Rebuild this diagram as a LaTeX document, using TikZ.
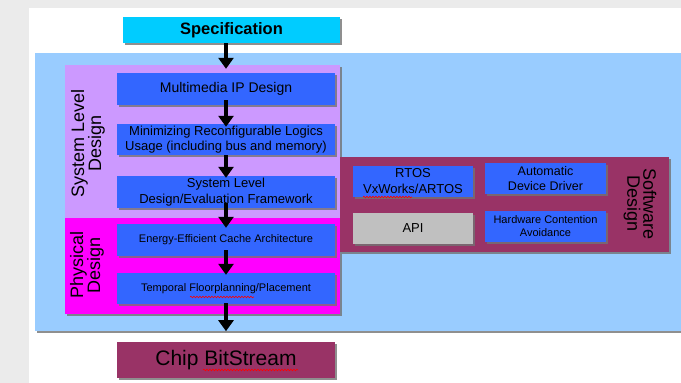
\documentclass[tikz,border=0pt]{standalone}
\usepackage{fontspec}
\setmainfont{Liberation Sans}
\usetikzlibrary{shadows,arrows.meta,decorations.pathmorphing}
\definecolor{outergray}{HTML}{EBEBEB}
\definecolor{regblue}{HTML}{99CCFF}
\definecolor{regpurple}{HTML}{CC99FF}
\definecolor{regpink}{HTML}{FF00FF}
\definecolor{ipblue}{HTML}{3366FF}
\definecolor{maroon}{HTML}{993366}
\definecolor{speccyan}{HTML}{00CCFF}
\definecolor{apigray}{HTML}{C0C0C0}
\newcommand{\fsz}[2]{\fontsize{#1}{#2}\selectfont}
\begin{document}
\begin{tikzpicture}[x=1pt,y=-1pt,
  shad/.style={drop shadow={shadow xshift=2pt,shadow yshift=-2pt,fill=black!55,opacity=0.8}},
  region/.style={inner sep=0pt,shad},
  box/.style={fill=ipblue,inner sep=0pt,align=center,minimum width=218pt,shad,text=black},
  swbox/.style={fill=ipblue,inner sep=0pt,align=center,minimum height=31pt,shad,text=black},
  arr/.style={line width=4pt,-{Triangle[width=15pt,length=11pt]}},
  squig/.style={draw=red,line width=0.6pt,decorate,decoration={snake,segment length=3pt,amplitude=0.8pt}},
  sidelabel/.style={align=center,inner sep=0pt,text=black}]
\useasboundingbox (0,0) rectangle (681,383);
\fill[outergray] (0,0) rectangle (681,383);
\fill[white] (29,8) rectangle (681,383);
% regions
\node[region,fill=regblue,minimum width=646pt,minimum height=278pt] (bluebg) at (358,192) {};
\node[region,fill=regpurple,minimum width=275pt,minimum height=153pt] (sld) at (202.5,141.5) {};
\node[region,fill=regpink,minimum width=275pt,minimum height=96pt] (pd) at (202.5,266) {};
\node[region,fill=maroon,minimum width=329pt,minimum height=95pt] (swd) at (504.5,204.5) {};
% top / bottom
\node[region,fill=speccyan,minimum width=217pt,minimum height=26pt,font=\bfseries\fsz{16.5}{18}] (spec) at (231.5,30) {Specification};
\node[region,fill=maroon,minimum width=218pt,minimum height=36pt,font=\fsz{21}{23}] (chip) at (226,360) {Chip BitStream};
% left flow boxes
\node[box,minimum height=32pt,font=\fsz{14}{16}] (mm) at (226,89) {Multimedia IP Design};
\node[box,minimum height=31pt,font=\fsz{13}{15.5}] (mr) at (226,139.5) {Minimizing Reconfigurable Logics\\Usage (including bus and memory)};
\node[box,minimum height=32pt,font=\fsz{13}{15.5}] (sl) at (226,192) {System Level\\Design/Evaluation Framework};
\node[box,minimum height=32pt,font=\fsz{11}{13}] (ee) at (226,240) {Energy-Efficient Cache Architecture};
\node[box,minimum height=31pt,font=\fsz{11}{13}] (tf) at (226,288.5) {Temporal Floorplanning/Placement};
% software boxes
\node[swbox,minimum width=120pt,font=\fsz{13}{16}] (rtos) at (413,181.5) {RTOS\\VxWorks/ARTOS};
\node[swbox,minimum width=121pt,font=\fsz{12.5}{15}] (add) at (545.5,178.5) {Automatic\\Device Driver};
\node[swbox,fill=apigray,minimum width=120pt,font=\fsz{13}{15}] (api) at (413,228.5) {API};
\node[swbox,minimum width=121pt,font=\fsz{11}{13}] (hca) at (545.5,226.5) {Hardware Contention\\Avoidance};
% side labels
\node[sidelabel,rotate=90,font=\fsz{18}{17}] (sldlab) at (88,143) {System Level\\Design};
\node[sidelabel,rotate=90,font=\fsz{18}{17}] (pdlab) at (87,265) {Physical\\Design};
\node[sidelabel,rotate=-90,font=\fsz{18}{16}] (swdlab) at (640,204) {Software\\Design};
% arrow end points on the flow axis
\coordinate (specout) at (mm.north |- spec.south);
\coordinate (sldin) at (mm.north |- sld.north);
\coordinate (blueout) at (tf.south |- bluebg.south);
% arrows
\draw[arr] (specout) -- ([yshift=-4pt]sldin);
\draw[arr] ([yshift=5pt]mm.south) -- ([yshift=-3pt]mr.north);
\draw[arr] (mr.south) -- ([yshift=-2pt]sl.north);
\draw[arr] ([yshift=5pt]sl.south) -- ([yshift=-4pt]ee.north);
\draw[arr] ([yshift=6pt]ee.south) -- ([yshift=-2pt]tf.north);
\draw[arr] ([yshift=1pt]tf.south) -- (blueout);
% spell-check squiggles
\draw[squig] (363,197) -- (412,197);
\draw[squig] (190,297) -- (254,297);
\draw[squig] (203,370) -- (298,370);
\end{tikzpicture}
\end{document}
